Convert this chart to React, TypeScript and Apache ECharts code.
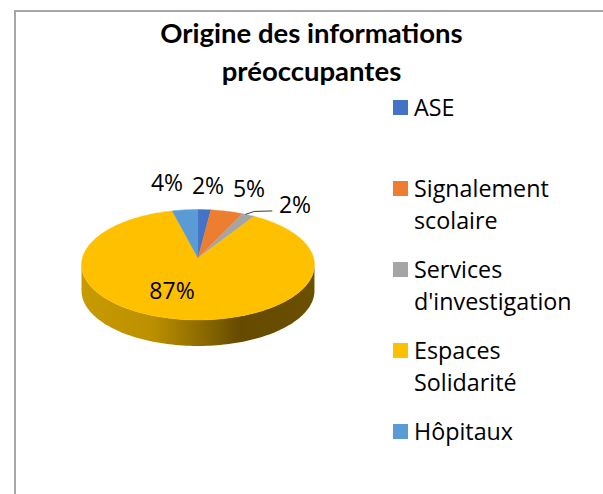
import React, { useEffect, useRef } from "react";
import * as echarts from "echarts";

const TITLE_LINES = ["Origine des informations", "préoccupantes"];
const categories = ["ASE", "Signalement scolaire", "Services d'investigation", "Espaces Solidarité", "Hôpitaux"];
const legendLines = [["ASE"], ["Signalement", "scolaire"], ["Services", "d'investigation"], ["Espaces", "Solidarité"], ["Hôpitaux"]];
const values = [2, 5, 2, 87, 4];
const colors = ["#4472C4", "#ED7D31", "#A5A5A5", "#FFC000", "#5B9BD5"];

const FONT = "'Open Sans'";
const CX = 198;
const CY = 258;
const RX = 115.6;
const RY = 54.4;
const PERSP = 0.122;
const DEPTH = 26;
const NEAR_START = 97;
const NEAR_END = 263;
// label centres, in chart pixels, per slice
const labelCenters = [[208, 185], [249, 188], [295, 204], [172, 290], [167, 182]];

const rim = (deg: number) => {
  const t = (deg * Math.PI) / 180;
  const w = 1 + PERSP * Math.cos(t);
  return [CX + (RX * Math.sin(t)) / w, CY - (RY * Math.cos(t)) / w];
};

const arcPoints = (a: number, b: number) => {
  const pts: number[][] = [];
  const n = Math.max(2, Math.ceil((b - a) / 1.5));
  for (let i = 0; i <= n; i++) pts.push(rim(a + ((b - a) * i) / n));
  return pts;
};

const total = values.reduce((s, v) => s + v, 0);

const renderSlice = (params: any, api: any) => {
  const i = params.dataIndex;
  const v = api.value(0);
  let before = 0;
  for (let j = 0; j < i; j++) before += values[j];
  const a = (before / total) * 360;
  const b = a + (v / total) * 360;
  const children: any[] = [];

  const sa = Math.max(a, NEAR_START);
  const sb = Math.min(b, NEAR_END);
  if (sb > sa) {
    const front = arcPoints(sa, sb);
    const back = front.map(([x, y]) => [x, y + DEPTH]).reverse();
    children.push({
      type: "polygon",
      shape: { points: front.concat(back) },
      style: {
        fill: new echarts.graphic.LinearGradient(
          82, 0, 315, 0,
          [
            { offset: 0, color: "#C89A00" },
            { offset: 0.3, color: "#BC9000" },
            { offset: 0.55, color: "#846400" },
            { offset: 0.68, color: "#654A00" },
            { offset: 1, color: "#6B5000" },
          ],
          true
        ),
      },
    });
  }

  children.push({
    type: "polygon",
    shape: { points: [[CX, CY], ...arcPoints(a, b)] },
    style: { fill: colors[i], stroke: colors[i], lineWidth: 0.4 },
  });

  const [lx, ly] = labelCenters[i];
  children.push({
    type: "text",
    z2: 20,
    style: {
      text: `${Math.round(v)}%`,
      x: lx,
      y: ly,
      align: "center",
      verticalAlign: "middle",
      fill: "#000000",
      font: `23px ${FONT}`,
    },
  });
  if (i === 2) {
    const m = rim((a + b) / 2);
    children.push({
      type: "polyline",
      z2: 20,
      shape: { points: [[m[0] - 3, m[1] - 0.5], [m[0] + 6, m[1] - 3.5], [m[0] + 24, m[1] - 4]] },
      style: { stroke: "#3a3a3a", lineWidth: 1, fill: "none" },
    });
  }
  return { type: "group", children };
};

const legendGraphics = () => {
  const STEP = 81;
  const out: any[] = [];
  legendLines.forEach((lines, i) => {
    const y = 100 + i * STEP;
    out.push({ type: "rect", left: 393, top: y, shape: { width: 15, height: 15 }, style: { fill: colors[i] } });
    lines.forEach((line, k) => {
      out.push({
        type: "text",
        x: 414,
        y: y + 7 + k * 31.5,
        style: { text: line, fill: "#000000", font: `23.3px ${FONT}`, verticalAlign: "middle", align: "left" },
      });
    });
  });
  return out;
};

export default function App() {
  const ref = useRef<HTMLDivElement>(null);
  useEffect(() => {
    if (!ref.current) return;
    const chart = echarts.init(ref.current, undefined, { renderer: "svg" });
    chart.setOption({
      animation: false,
      backgroundColor: "#ffffff",
      title: {
        text: TITLE_LINES.join("\n"),
        left: 306.5,
        top: 8,
        textAlign: "center",
        textStyle: { fontFamily: "Lato", fontWeight: "bold", fontSize: 27.5, lineHeight: 38, color: "#000000" },
      },
      graphic: [
        { type: "line", shape: { x1: 15, y1: 11, x2: 603, y2: 11 }, style: { stroke: "#A6A6A6", lineWidth: 2 } },
        { type: "line", shape: { x1: 15, y1: 10, x2: 15, y2: 494 }, style: { stroke: "#A6A6A6", lineWidth: 2 } },
        ...legendGraphics(),
      ],
      series: [
        {
          type: "custom",
          coordinateSystem: "none",
          renderItem: renderSlice,
          data: values.map((v, i) => ({ name: categories[i], value: [v] })),
        },
      ],
    });
    return () => chart.dispose();
  }, []);
  return <div ref={ref} style={{ position: "fixed", left: 0, top: 0, width: 603, height: 494 }} />;
}
